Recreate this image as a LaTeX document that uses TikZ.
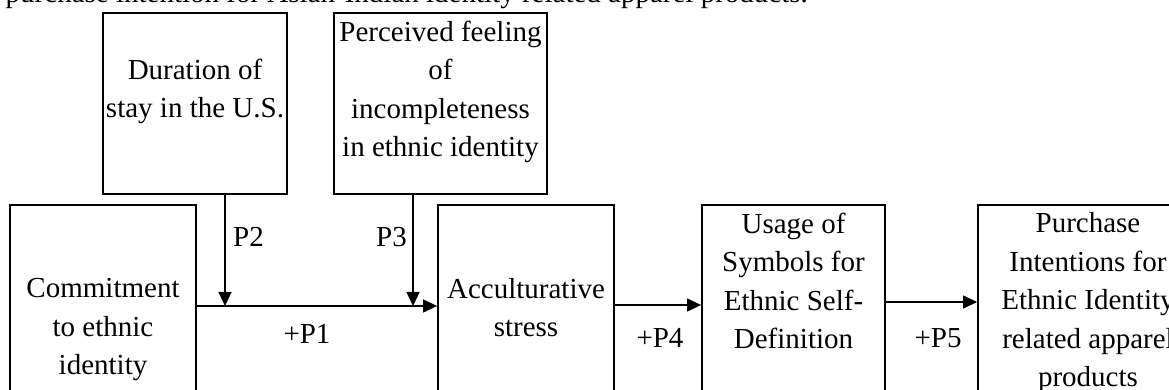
\documentclass[tikz,border=0pt]{standalone}
\usepackage{fontspec}
\setmainfont{Liberation Serif}
\usepackage{tikz}
\usetikzlibrary{arrows.meta}
\usetikzlibrary{calc}

\tikzset{
  box/.style={draw, line width=1.8pt, inner sep=0pt},
  txt/.style={align=center, inner sep=0pt, font=\fontsize{29}{38.5}\selectfont},
  arr/.style={line width=1.2pt, -{Triangle[length=14pt,width=13pt]}}
}

\begin{document}
\begin{tikzpicture}[x=1pt,y=1pt]
      \useasboundingbox (0,0) rectangle (1169,390);
      \clip (0,0) rectangle (1169,390);
      \node[txt, anchor=base east] (intro) at (808,387) {purchase intention for Asian-Indian identity related apparel products.};
      % boxes
      \node[box, minimum width=184, minimum height=181] (dur)   at ( 195  ,286.5) {};
      \node[box, minimum width=213, minimum height=181] (perc)  at ( 440.5,286.5) {};
      \node[box, minimum width=186, minimum height=225] (comm)  at ( 103  , 72.5) {};
      \node[box, minimum width=176, minimum height=225] (accu)  at ( 526  , 72.5) {};
      \node[box, minimum width=183, minimum height=225] (usage) at ( 793.5, 72.5) {};
      \node[box, minimum width=220, minimum height=225] (purch) at (1088  , 72.5) {};
      % texts sit on the baseline of their last line
      \node[txt, anchor=base] (durtxt)   at ( 195  ,272) {Duration of\\stay in the U.S.};
      \node[txt, anchor=base] (perctxt)  at ( 440.5,233) {Perceived feeling\\of\\incompleteness\\in ethnic identity};
      \node[txt, anchor=base] (commtxt)  at ( 103  , 15) {Commitment\\to ethnic\\identity};
      \node[txt, anchor=base] (accutxt)  at ( 526  , 53) {Acculturative\\stress};
      \node[txt, anchor=base] (usagetxt) at ( 793.5, 41) {Usage of\\Symbols for\\Ethnic Self-\\Definition};
      \node[txt, anchor=base] (purchtxt) at (1088  ,  3) {Purchase\\Intentions for\\Ethnic Identity\\related apparel\\products};
      % arrows
      \coordinate (p2end) at (225,84);
      \coordinate (p3end) at (413,84);
      \coordinate (p4y)   at (0,85);
      \coordinate (p5y)   at (0,88);
      \draw[arr] (comm.east |- p2end) -- (accu.west |- p2end);
      \draw[arr] (p2end |- dur.south)  -- (p2end);
      \draw[arr] (p3end |- perc.south) -- (p3end);
      \draw[arr] (accu.east |- p4y)  -- (usage.west |- p4y);
      \draw[arr] (usage.east |- p5y) -- (purch.west |- p5y);
      \node[txt, anchor=base west] (p2) at (233,143) {P2};
      \node[txt, anchor=base west] (p3) at (376,143) {P3};
      \node[txt, anchor=base] (p1) at (307,46) {+P1};
      \node[txt, anchor=base] (p4) at (660,42) {+P4};
      \node[txt, anchor=base] (p5) at (938,42) {+P5};
\end{tikzpicture}
\end{document}
